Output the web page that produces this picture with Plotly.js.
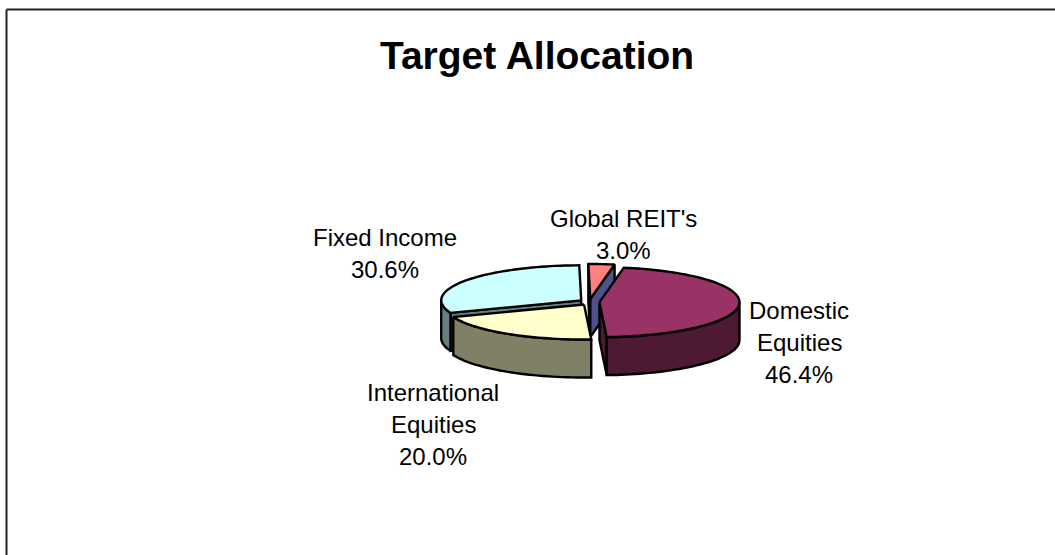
<!DOCTYPE html>
<html>
<head>
<meta charset="utf-8">
<script src="https://cdn.plot.ly/plotly-3.0.1.min.js"></script>
<style>html,body{margin:0;padding:0;background:#fff;overflow:hidden}#chart{width:1055px;height:555px}</style>
</head>
<body>
<div id="chart"></div>
<script>
// Data
var titleText = "Target Allocation";
var categories = ["Domestic Equities", "International Equities", "Fixed Income", "Global REIT's"];
var values = [46.4, 20.0, 30.6, 3.0];
var labelLines = [["Domestic", "Equities"], ["International", "Equities"], ["Fixed Income"], ["Global REIT's"]];
var topColors = ["#993366", "#FFFFCC", "#CCFFFF", "#FF8080"];
var rimColors = ["#4D1933", "#808066", "#668080", "#804040"];
var wallColors = ["#4D1933", "#808066", "#668080", "#50508C"];

// Layout constants (page pixels)
var W = 1055, H = 555;
var startAngle = 10, CX = 589.5, CY = 302, RX = 140, RY = 35, DEPTH = 38, EXPLODE = 10, EXPLODE_Y = 0.3;
var labelCX = [799, 433, 385, 623];
var labelY0 = [310, 392, 237, 218];
var lineStep = 32;
var FONT = "Liberation Sans, Arial, sans-serif";

function rad(a) { return a * Math.PI / 180; }
function pt(c, a, dy) { return [c[0] + RX * Math.sin(rad(a)), c[1] - RY * Math.cos(rad(a)) + (dy || 0)]; }
function arc(c, a, b, dy) {
  var out = [], n = Math.max(2, Math.ceil(Math.abs(b - a) / 2));
  for (var i = 0; i <= n; i++) out.push(pt(c, a + (b - a) * i / n, dy));
  return out;
}
function poly(points, fill) {
  var closed = points.concat([points[0]]);
  return {
    type: "scatter", mode: "lines", fill: "toself", fillcolor: fill,
    x: closed.map(function (p) { return p[0]; }),
    y: closed.map(function (p) { return p[1]; }),
    line: { color: "#000", width: 2.4, simplify: false },
    hoverinfo: "skip", showlegend: false
  };
}

var total = values.reduce(function (s, v) { return s + v; }, 0);
var slices = [], acc = startAngle;
values.forEach(function (v, i) {
  var a = acc, b = acc + v / total * 360, m = (a + b) / 2;
  acc = b;
  slices.push({
    i: i, a: a, b: b, m: m,
    c: [CX + EXPLODE * Math.sin(rad(m)), CY - EXPLODE * EXPLODE_Y * Math.cos(rad(m))]
  });
});
slices.sort(function (p, q) { return Math.cos(rad(q.m)) - Math.cos(rad(p.m)); });

var traces = [];
slices.forEach(function (s) {
  var wall = function (ang) {
    var r = pt(s.c, ang);
    return poly([s.c, r, [r[0], r[1] + DEPTH], [s.c[0], s.c[1] + DEPTH]], wallColors[s.i]);
  };
  if (Math.sin(rad(s.a)) < 0) traces.push(wall(s.a));
  if (Math.sin(rad(s.b)) > 0) traces.push(wall(s.b));
  var ra = Math.max(s.a, 90), rb = Math.min(s.b, 270);
  if (rb > ra) traces.push(poly(arc(s.c, ra, rb, 0).concat(arc(s.c, rb, ra, DEPTH)), rimColors[s.i]));
  traces.push(poly([s.c].concat(arc(s.c, s.a, s.b, 0)), topColors[s.i]));
});

var annotations = [{
  xref: "x", yref: "y", x: 537, y: 55, text: "<b>" + titleText + "</b>", showarrow: false,
  xanchor: "center", yanchor: "middle", font: { family: FONT, size: 39, color: "#000" }
}];
categories.forEach(function (name, i) {
  labelLines[i].concat([values[i].toFixed(1) + "%"]).forEach(function (line, k) {
    annotations.push({
      xref: "x", yref: "y", x: labelCX[i], y: labelY0[i] + k * lineStep, text: line, showarrow: false,
      xanchor: "center", yanchor: "middle", font: { family: FONT, size: 24, color: "#000" }
    });
  });
});

var layout = {
  width: W, height: H, margin: { l: 0, r: 0, t: 0, b: 0 },
  paper_bgcolor: "#fff", plot_bgcolor: "#fff", showlegend: false,
  xaxis: { range: [0, W], visible: false, fixedrange: true },
  yaxis: { range: [H, 0], visible: false, fixedrange: true },
  annotations: annotations,
  shapes: [
    { type: "line", xref: "x", yref: "y", x0: 6.5, y0: 9.5, x1: W, y1: 9.5, line: { color: "#222", width: 2 } },
    { type: "line", xref: "x", yref: "y", x0: 6.5, y0: 9.5, x1: 6.5, y1: H, line: { color: "#222", width: 2 } }
  ]
};
Plotly.newPlot("chart", traces, layout, { displayModeBar: false, staticPlot: true });
</script>
</body>
</html>
